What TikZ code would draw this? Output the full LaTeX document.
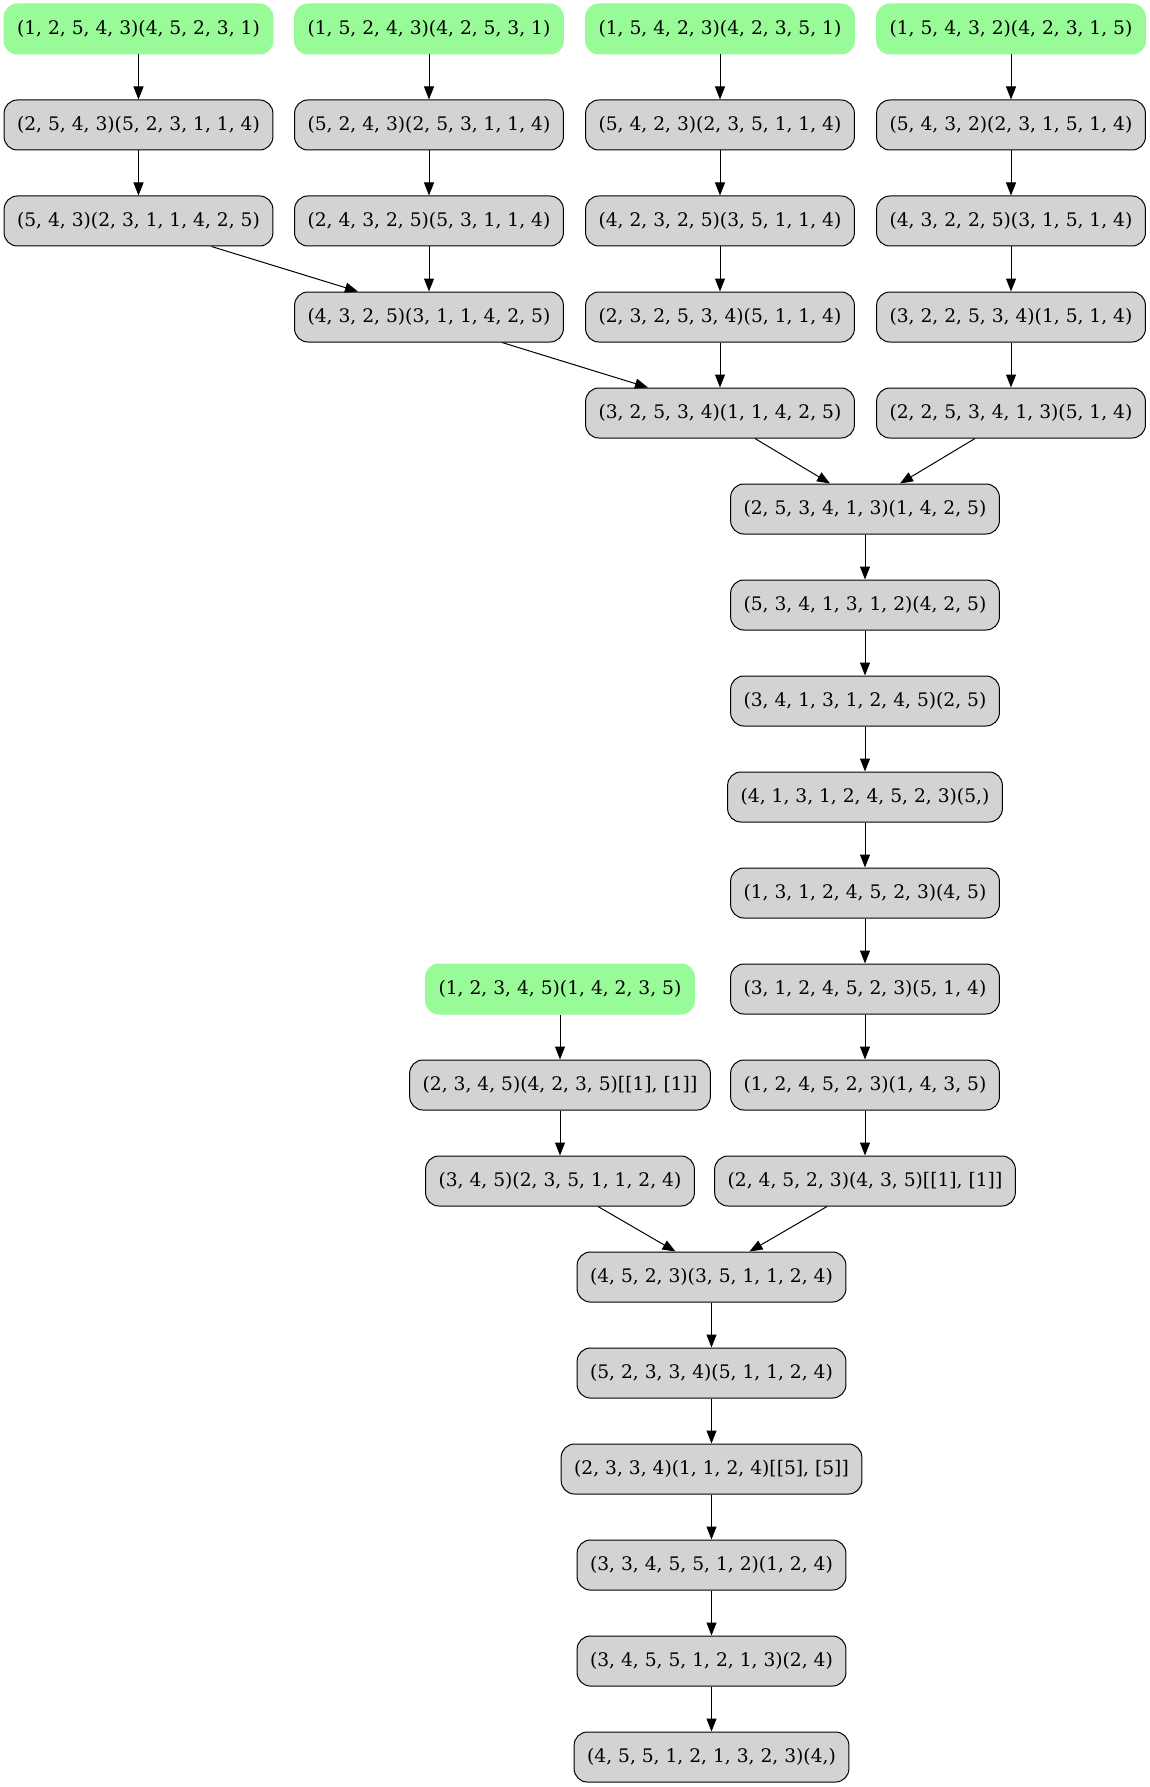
\documentclass[tikz,border=0pt]{standalone}
\usepackage{fontspec}
\setmainfont{DejaVu Serif}
\usepackage{tikz}
\usetikzlibrary{calc, arrows.meta}
\definecolor{mygreen}{RGB}{152, 251, 152}
\definecolor{mygray}{RGB}{211, 211, 211}
\tikzset{
  perm/.style = {draw=black, fill=mygray, rounded corners=10pt, line width=0.75pt,
    minimum height=37.5pt, inner xsep=9.75pt, inner ysep=0pt,
    font=\fontsize{14}{17}\selectfont},
  seed/.style = {perm, draw=mygreen, fill=mygreen},
  edge/.style = {-{Triangle[length=9.75pt, width=7.5pt]}, line width=0.75pt}
}

\begin{document}
\begin{tikzpicture}[x=0.75pt, y=-0.75pt]
\useasboundingbox (0, 0) rectangle (1149, 1787);
% four starting chains
\node[seed] (a0) at (138.5, 29) {(1, 2, 5, 4, 3)(4, 5, 2, 3, 1)};
\node[seed] (b0) at (429, 29) {(1, 5, 2, 4, 3)(4, 2, 5, 3, 1)};
\node[seed] (c0) at (720, 29) {(1, 5, 4, 2, 3)(4, 2, 3, 5, 1)};
\node[seed] (d0) at (1011, 29) {(1, 5, 4, 3, 2)(4, 2, 3, 1, 5)};
\node[perm] (a1) at (138.5, 125) {(2, 5, 4, 3)(5, 2, 3, 1, 1, 4)};
\node[perm] (b1) at (429, 125) {(5, 2, 4, 3)(2, 5, 3, 1, 1, 4)};
\node[perm] (c1) at (720, 125) {(5, 4, 2, 3)(2, 3, 5, 1, 1, 4)};
\node[perm] (d1) at (1011, 125) {(5, 4, 3, 2)(2, 3, 1, 5, 1, 4)};
\node[perm] (a2) at (138.5, 221) {(5, 4, 3)(2, 3, 1, 1, 4, 2, 5)};
\node[perm] (b2) at (429, 221) {(2, 4, 3, 2, 5)(5, 3, 1, 1, 4)};
\node[perm] (c2) at (720, 221) {(4, 2, 3, 2, 5)(3, 5, 1, 1, 4)};
\node[perm] (d2) at (1011, 221) {(4, 3, 2, 2, 5)(3, 1, 5, 1, 4)};
\node[perm] (b3) at (429, 317) {(4, 3, 2, 5)(3, 1, 1, 4, 2, 5)};
\node[perm] (c3) at (720, 317) {(2, 3, 2, 5, 3, 4)(5, 1, 1, 4)};
\node[perm] (d3) at (1011, 317) {(3, 2, 2, 5, 3, 4)(1, 5, 1, 4)};
\node[perm] (c4) at (720, 413) {(3, 2, 5, 3, 4)(1, 1, 4, 2, 5)};
\node[perm] (d4) at (1011, 413) {(2, 2, 5, 3, 4, 1, 3)(5, 1, 4)};
% middle chain
\node[perm] (m5) at (865, 509) {(2, 5, 3, 4, 1, 3)(1, 4, 2, 5)};
\node[perm] (m6) at (865, 605) {(5, 3, 4, 1, 3, 1, 2)(4, 2, 5)};
\node[perm] (m7) at (865, 701) {(3, 4, 1, 3, 1, 2, 4, 5)(2, 5)};
\node[perm] (m8) at (865, 797) {(4, 1, 3, 1, 2, 4, 5, 2, 3)(5,)};
\node[perm] (m9) at (865, 893) {(1, 3, 1, 2, 4, 5, 2, 3)(4, 5)};
\node[perm] (m10) at (865, 989) {(3, 1, 2, 4, 5, 2, 3)(5, 1, 4)};
\node[perm] (m11) at (865, 1085) {(1, 2, 4, 5, 2, 3)(1, 4, 3, 5)};
\node[perm] (m12) at (865, 1181) {(2, 4, 5, 2, 3)(4, 3, 5)[[1], [1]]};
\node[seed] (e10) at (560, 989) {(1, 2, 3, 4, 5)(1, 4, 2, 3, 5)};
\node[perm] (e11) at (560, 1085) {(2, 3, 4, 5)(4, 2, 3, 5)[[1], [1]]};
\node[perm] (e12) at (560, 1181) {(3, 4, 5)(2, 3, 5, 1, 1, 2, 4)};
% final chain
\node[perm] (n13) at (711.5, 1277) {(4, 5, 2, 3)(3, 5, 1, 1, 2, 4)};
\node[perm] (n14) at (711.5, 1373) {(5, 2, 3, 3, 4)(5, 1, 1, 2, 4)};
\node[perm] (n15) at (711.5, 1469) {(2, 3, 3, 4)(1, 1, 2, 4)[[5], [5]]};
\node[perm] (n16) at (711.5, 1565) {(3, 3, 4, 5, 5, 1, 2)(1, 2, 4)};
\node[perm] (n17) at (711.5, 1661) {(3, 4, 5, 5, 1, 2, 1, 3)(2, 4)};
\node[perm] (n18) at (711.5, 1757) {(4, 5, 5, 1, 2, 1, 3, 2, 3)(4,)};
% straight edges
\foreach \u/\v in {a0/a1, a1/a2, b0/b1, b1/b2, b2/b3, c0/c1, c1/c2, c2/c3, c3/c4,
  d0/d1, d1/d2, d2/d3, d3/d4, m5/m6, m6/m7, m7/m8, m8/m9, m9/m10, m10/m11, m11/m12,
  e10/e11, e11/e12, n13/n14, n14/n15, n15/n16, n16/n17, n17/n18}
  \draw[edge] (\u) -- (\v);
% slanted edges
\draw[edge] ($(a2.south)+(73, 0)$) -- ($(b3.north)+(-71, 0)$);
\draw[edge] ($(b3.south)+(73, 0)$) -- ($(c4.north)+(-72, 0)$);
\draw[edge] ($(c4.south)+(35, 0)$) -- ($(m5.north)+(-35, 0)$);
\draw[edge] ($(d4.south)+(-36, 0)$) -- ($(m5.north)+(35, 0)$);
\draw[edge] ($(e12.south)+(38, 0)$) -- ($(n13.north)+(-36, 0)$);
\draw[edge] ($(m12.south)+(-38, 0)$) -- ($(n13.north)+(38, 0)$);
\end{tikzpicture}
\end{document}
